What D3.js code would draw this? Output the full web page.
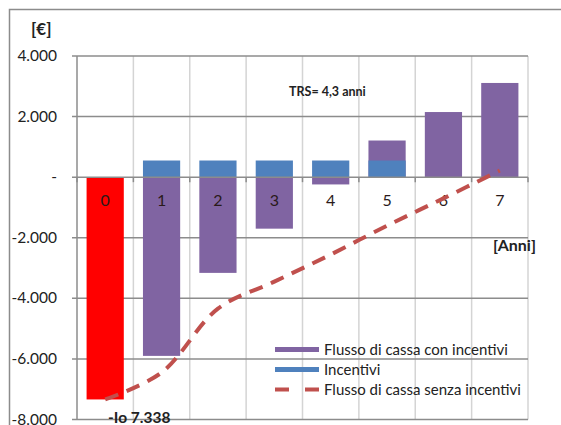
<!DOCTYPE html>
<html><head><meta charset="utf-8">
<script src="https://cdn.jsdelivr.net/npm/d3@7"></script>
<style>
html,body{margin:0;padding:0;background:#fff;}
svg{display:block;font-family:Lato,"Open Sans",sans-serif;}
</style></head>
<body>
<svg id="c" width="561" height="425"></svg>
<script>
const years = ["0","1","2","3","4","5","6","7"];
const flussoConIncentivi = [-7338, -5900, -3160, -1700, -240, 1210, 2150, 3110];
const incentivi = [0, 550, 550, 550, 550, 550, 0, 0];
const flussoSenzaIncentivi = [-7338, -6450, -4340, -3450, -2555, -1600, -700, 220];
const yTicks = [4000, 2000, 0, -2000, -4000, -6000, -8000];
const barColors = ["#ff0000","#8064a2","#8064a2","#8064a2","#8064a2","#8064a2","#8064a2","#8064a2"];

const svg = d3.select("#c");
const L = 77, R = 528, T = 56, B = 419.5;
const x = d3.scaleBand().domain(years).range([L, R]).padding(0);
const y = d3.scaleLinear().domain([-8000, 4000]).range([B, T]);
const bw = x.bandwidth() * 0.66;
const fmt = v => v === 0 ? "-" : d3.format(",")(v).replace(/,/g, ".").replace("−","-");

// outer frame
svg.append("rect").attr("x", 9.5).attr("y", 9.5).attr("width", 700).attr("height", 600)
  .attr("fill", "none").attr("stroke", "#8c8c8c").attr("stroke-width", 1.5);

// vertical grid (category boundaries)
const bounds = years.map(d => x(d)).concat([R]);
svg.append("g").selectAll("line").data(bounds.slice(1)).join("line")
  .attr("x1", d => d).attr("x2", d => d).attr("y1", T).attr("y2", B)
  .attr("stroke", "#d4d4d4").attr("stroke-width", 1.5);

// horizontal grid
svg.append("g").selectAll("line").data(yTicks.filter(v => v !== 0)).join("line")
  .attr("x1", L - 5).attr("x2", R).attr("y1", d => y(d)).attr("y2", d => y(d))
  .attr("stroke", "#8c8c8c").attr("stroke-width", 1.5);

// y axis line
svg.append("line").attr("x1", L).attr("x2", L).attr("y1", T).attr("y2", B)
  .attr("stroke", "#8c8c8c").attr("stroke-width", 1.5);

// y tick labels
svg.append("g").selectAll("text").data(yTicks).join("text")
  .attr("x", 57).attr("y", d => y(d) + 5).attr("text-anchor", "end")
  .attr("font-size", 15.5).attr("fill", "#222").text(fmt);

// bars: flusso con incentivi
svg.append("g").selectAll("rect").data(flussoConIncentivi).join("rect")
  .attr("x", (d, i) => x(years[i]) + (x.bandwidth() - bw) / 2)
  .attr("width", bw)
  .attr("y", d => y(Math.max(0, d)))
  .attr("height", d => Math.abs(y(d) - y(0)))
  .attr("fill", (d, i) => barColors[i]);

// bars: incentivi (drawn over)
svg.append("g").selectAll("rect").data(incentivi).join("rect")
  .attr("x", (d, i) => x(years[i]) + (x.bandwidth() - bw) / 2)
  .attr("width", bw)
  .attr("y", d => y(Math.max(0, d)))
  .attr("height", d => Math.abs(y(d) - y(0)))
  .attr("fill", "#4f81bd");

// zero axis line + ticks
svg.append("line").attr("x1", L - 5).attr("x2", R).attr("y1", y(0)).attr("y2", y(0))
  .attr("stroke", "#8c8c8c").attr("stroke-width", 1.5);
svg.append("g").selectAll("line").data(bounds).join("line")
  .attr("x1", d => d).attr("x2", d => d).attr("y1", y(0)).attr("y2", y(0) + 5)
  .attr("stroke", "#8c8c8c").attr("stroke-width", 1.5);

// category labels
svg.append("g").selectAll("text").data(years).join("text")
  .attr("x", d => x(d) + x.bandwidth() / 2).attr("y", y(0) + 29)
  .attr("text-anchor", "middle").attr("font-size", 16).attr("fill", "#2a1a1a").text(d => d);

// dashed line
const line = d3.line()
  .x((d, i) => x(years[i]) + x.bandwidth() / 2)
  .y(d => y(d))
  .curve(d3.curveCatmullRom.alpha(0.5));
svg.append("path").datum(flussoSenzaIncentivi).attr("d", line)
  .attr("fill", "none").attr("stroke", "#c0504d").attr("stroke-width", 4)
  .attr("stroke-dasharray", "14,9");

// texts
svg.append("text").attr("x", 31).attr("y", 35).attr("font-size", 17).attr("font-weight", "bold")
  .attr("fill", "#222").text("[€]");
svg.append("text").attr("x", 289).attr("y", 96).attr("font-size", 12.5).attr("font-weight", "bold")
  .attr("fill", "#222").text("TRS= 4,3 anni");
svg.append("text").attr("x", 493).attr("y", 251).attr("font-size", 16).attr("font-weight", "bold")
  .attr("fill", "#222").text("[Anni]");
svg.append("text").attr("x", 108).attr("y", 423).attr("font-size", 15.5).attr("font-weight", "bold")
  .attr("fill", "#222").text("-Io 7.338");

// legend
const lg = svg.append("g");
const items = [
  {label: "Flusso di cassa con incentivi", type: "bar", color: "#8064a2"},
  {label: "Incentivi", type: "bar", color: "#4f81bd"},
  {label: "Flusso di cassa senza incentivi", type: "line", color: "#c0504d"}
];
items.forEach((it, i) => {
  const cy = 349.5 + i * 20;
  if (it.type === "bar") {
    lg.append("rect").attr("x", 275).attr("y", cy - 2.5).attr("width", 44).attr("height", 5).attr("fill", it.color);
  } else {
    lg.append("line").attr("x1", 275).attr("x2", 319).attr("y1", cy).attr("y2", cy)
      .attr("stroke", it.color).attr("stroke-width", 4).attr("stroke-dasharray", "14,16");
  }
  lg.append("text").attr("x", 324).attr("y", cy + 5).attr("font-size", 15).attr("fill", "#222").text(it.label);
});
</script>
</body></html>
